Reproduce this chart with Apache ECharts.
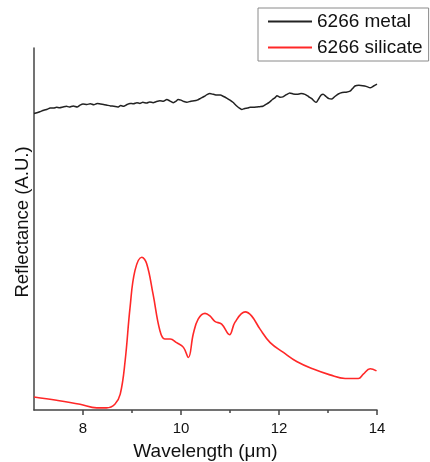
<!DOCTYPE html>
<html><head><meta charset="utf-8">
<script src="https://cdn.jsdelivr.net/npm/echarts@6/dist/echarts.min.js"></script>
<style>html,body{margin:0;padding:0;background:#fff}#c{width:430px;height:462px}</style>
</head><body><div id="c"></div>
<script>
const majorTicks = [8, 10, 12, 14];
const minorTicks = [9, 11, 13];

const metalX = [7.00,7.06,7.12,7.20,7.27,7.33,7.40,7.46,7.52,7.59,7.66,7.72,7.80,7.88,7.94,8.00,8.08,8.15,8.22,8.29,8.36,8.42,8.49,8.56,8.63,8.71,8.77,8.83,8.90,8.96,9.03,9.10,9.16,9.22,9.30,9.36,9.43,9.50,9.57,9.64,9.71,9.77,9.84,9.90,9.94,10.00,10.06,10.12,10.20,10.27,10.33,10.40,10.47,10.53,10.59,10.66,10.73,10.80,10.87,10.94,11.00,11.06,11.12,11.18,11.24,11.30,11.36,11.41,11.48,11.55,11.61,11.67,11.73,11.80,11.86,11.92,11.96,12.02,12.08,12.15,12.22,12.29,12.37,12.45,12.53,12.60,12.67,12.72,12.76,12.82,12.86,12.90,12.96,13.02,13.08,13.14,13.21,13.29,13.37,13.45,13.50,13.55,13.63,13.71,13.78,13.86,13.93,14.00];
const metalY = [0.819,0.821,0.824,0.828,0.831,0.834,0.834,0.836,0.835,0.837,0.839,0.837,0.840,0.837,0.842,0.845,0.844,0.846,0.843,0.847,0.845,0.844,0.842,0.840,0.839,0.837,0.841,0.839,0.844,0.847,0.846,0.849,0.847,0.850,0.848,0.851,0.849,0.852,0.854,0.853,0.858,0.854,0.849,0.853,0.858,0.856,0.852,0.850,0.853,0.854,0.856,0.861,0.866,0.871,0.874,0.872,0.870,0.870,0.866,0.861,0.856,0.850,0.842,0.835,0.830,0.833,0.834,0.836,0.836,0.837,0.838,0.839,0.844,0.850,0.857,0.863,0.868,0.864,0.865,0.871,0.876,0.873,0.872,0.874,0.872,0.866,0.860,0.853,0.850,0.862,0.870,0.872,0.866,0.860,0.859,0.866,0.873,0.877,0.878,0.881,0.888,0.895,0.897,0.896,0.894,0.890,0.895,0.900];

const silicateX = [7.00,7.46,7.94,8.28,8.48,8.65,8.76,8.86,8.96,9.06,9.20,9.30,9.43,9.57,9.67,9.78,9.91,10.05,10.15,10.25,10.35,10.49,10.59,10.69,10.83,10.99,11.10,11.31,11.44,11.61,11.82,12.09,12.36,12.70,13.04,13.35,13.62,13.72,13.86,13.99];
const silicateY = [0.036,0.027,0.016,0.006,0.006,0.016,0.044,0.136,0.283,0.385,0.422,0.404,0.320,0.219,0.196,0.196,0.186,0.173,0.145,0.210,0.251,0.267,0.260,0.245,0.237,0.208,0.242,0.271,0.260,0.224,0.186,0.159,0.134,0.113,0.097,0.087,0.087,0.099,0.114,0.108];

const zip = (xs, ys) => xs.map((x, i) => [x, ys[i]]);
const FONT = "'Liberation Sans', Arial, sans-serif";
const chart = echarts.init(document.getElementById('c'), null, {renderer: 'canvas'});
chart.setOption({
  animation: false,
  backgroundColor: '#fff',
  grid: {left: 34, right: 53, top: 48, bottom: 52, containLabel: false, outerBoundsMode: 'none'},
  legend: {
    orient: 'vertical', left: 258, top: 8,
    padding: [4, 6, 4, 10], itemGap: 7,
    itemWidth: 44, itemHeight: 2, icon: 'rect',
    borderColor: '#8a8a8a', borderWidth: 1,
    textStyle: {fontFamily: FONT, fontSize: 19, color: '#111'},
    data: ['6266 metal', '6266 silicate']
  },
  xAxis: [{
    type: 'value', min: 7, max: 14,
    name: 'Wavelength (\u03bcm)', nameLocation: 'middle', nameGap: 32,
    nameTextStyle: {fontFamily: FONT, fontSize: 19, color: '#111'},
    axisLine: {lineStyle: {color: '#444', width: 1.5}},
    axisTick: {customValues: majorTicks, length: 5, lineStyle: {color: '#444', width: 1.5}},
    axisLabel: {customValues: majorTicks, fontFamily: FONT, fontSize: 15, color: '#111', margin: 11},
    splitLine: {show: false}
  }, {
    type: 'value', min: 7, max: 14, position: 'bottom',
    axisLine: {show: false},
    axisTick: {customValues: minorTicks, length: 3, lineStyle: {color: '#444', width: 1.5}},
    axisLabel: {show: false},
    splitLine: {show: false}
  }],
  yAxis: {
    type: 'value', min: 0, max: 1,
    name: 'Reflectance (A.U.)', nameLocation: 'middle', nameGap: 2,
    nameTextStyle: {fontFamily: FONT, fontSize: 18.5, color: '#111', padding: [0, 0, 0, 14]},
    axisLine: {show: true, lineStyle: {color: '#444', width: 1.5}},
    axisTick: {show: false}, axisLabel: {show: false}, splitLine: {show: false}
  },
  series: [{
    name: '6266 metal', type: 'line', symbol: 'none', smooth: 0.2,
    lineStyle: {color: '#222', width: 1.5}, itemStyle: {color: '#222'},
    data: zip(metalX, metalY)
  }, {
    name: '6266 silicate', type: 'line', symbol: 'none', smooth: 0.4,
    lineStyle: {color: '#ff2828', width: 1.6}, itemStyle: {color: '#ff2828'},
    data: zip(silicateX, silicateY)
  }]
});
</script></body></html>
